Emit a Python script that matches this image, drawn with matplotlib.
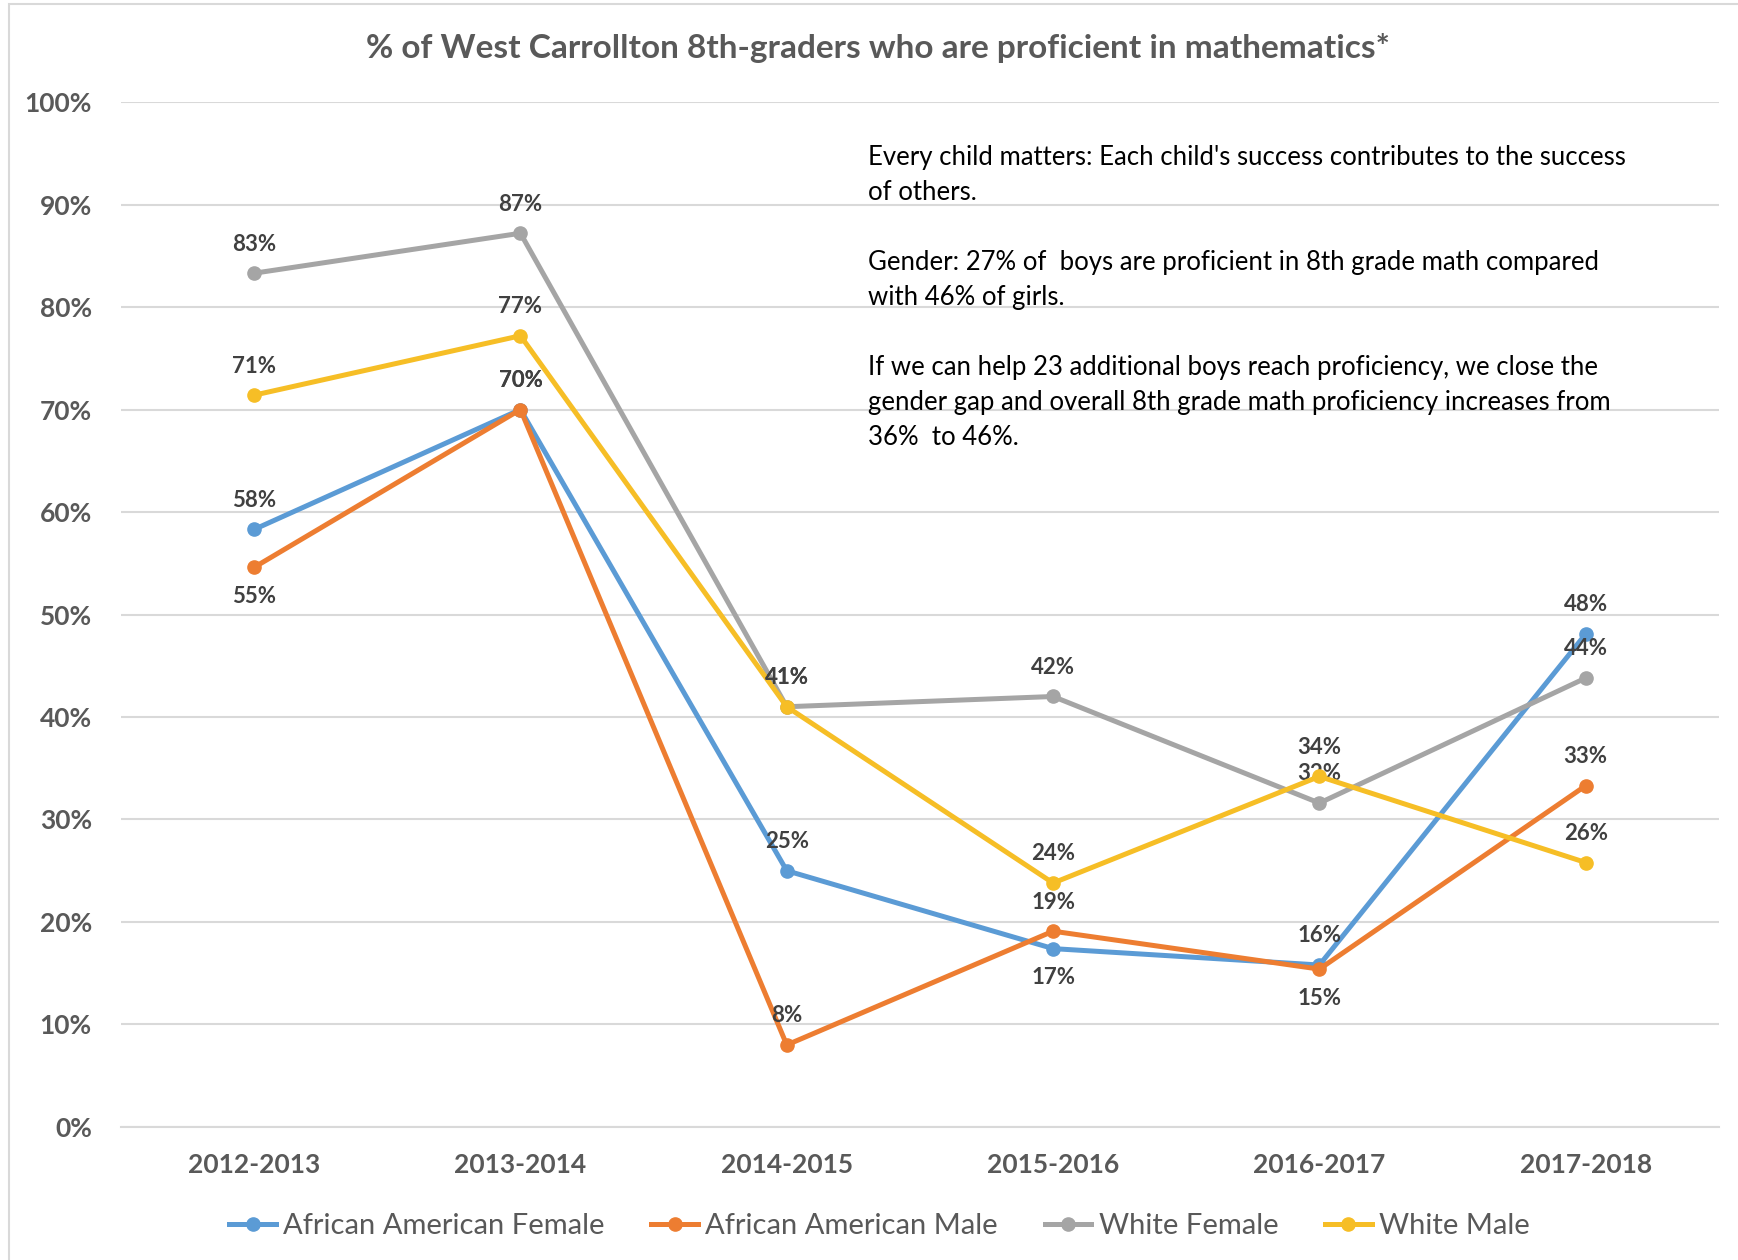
import matplotlib.pyplot as plt
from matplotlib.patches import Rectangle

# data
years = ["2012-2013", "2013-2014", "2014-2015", "2015-2016", "2016-2017", "2017-2018"]
aa_female = [58.3, 70.0, 25.0, 17.4, 15.8, 48.1]
aa_male = [54.6, 70.0, 8.0, 19.1, 15.4, 33.3]
w_female = [83.3, 87.2, 41.0, 42.0, 31.6, 43.8]
w_male = [71.4, 77.2, 41.0, 23.8, 34.2, 25.8]

series = [
    ("African American Female", aa_female, "#5B9BD5", [1, 1, 1, -1, 1, 1]),
    ("African American Male", aa_male, "#ED7D31", [-1, 1, 1, 1, -1, 1]),
    ("White Female", w_female, "#A5A5A5", [1, 1, 1, 1, 1, 1]),
    ("White Male", w_male, "#F6BE26", [1, 1, 1, 1, 1, 1]),
]

note = ("Every child matters: Each child's success contributes to the success\n"
        "of others.\n\n"
        "Gender: 27% of  boys are proficient in 8th grade math compared\n"
        "with 46% of girls.\n\n"
        "If we can help 23 additional boys reach proficiency, we close the\n"
        "gender gap and overall 8th grade math proficiency increases from\n"
        "36%  to 46%.")

plt.rcParams['font.family'] = ['Lato', 'DejaVu Sans']

fig = plt.figure(figsize=(17.38, 12.6), dpi=100)
ax = fig.add_axes([0.0696, 0.1056, 0.9194, 0.8134])

# light outer frame
fig.patches.append(Rectangle((0.005, -0.01), 1.2, 1.007, transform=fig.transFigure,
                             fill=False, edgecolor="#D9D9D9", linewidth=1.5))

xs = list(range(len(years)))
for name, vals, col, pos in series:
    ax.plot(xs, vals, '-o', color=col, linewidth=3.6, markersize=9.5, label=name, zorder=3)
    for x, v, p in zip(xs, vals, pos):
        ax.annotate(f"{v:.0f}%", (x, v), xytext=(0, 21 * p), textcoords='offset points',
                    ha='center', va='center', fontsize=16, fontweight='bold', color='#404040')

ax.set_xlim(-0.5, 5.5)
ax.set_ylim(0, 100)
ax.set_yticks(range(0, 101, 10))
ax.set_yticklabels([f"{t}%" for t in range(0, 101, 10)])
ax.set_xticks(xs)
ax.set_xticklabels(years)
ax.grid(axis='y', color='#D9D9D9', linewidth=1.5)
ax.set_axisbelow(True)
for s in ax.spines.values():
    s.set_visible(False)
ax.spines['bottom'].set_visible(True)
ax.spines['bottom'].set_color('#D9D9D9')
ax.spines['bottom'].set_linewidth(1.5)
ax.tick_params(length=0, labelcolor='#595959', labelsize=19)
ax.tick_params(axis='y', pad=21)
ax.tick_params(axis='x', pad=19)
for lab in ax.get_xticklabels() + ax.get_yticklabels():
    lab.set_fontweight('bold')

ax.text(0.4675, 0.958, note, transform=ax.transAxes, ha='left', va='top',
        fontsize=18.5, color='black', linespacing=1.5)

fig.text(0.505, 0.962, "% of West Carrollton 8th-graders who are proficient in mathematics*",
         ha='center', va='center', fontsize=24, fontweight='bold', color='#595959')

fig.legend(loc='center', bbox_to_anchor=(0.506, 0.027), ncol=4, frameon=False,
           fontsize=21, labelcolor='#595959', handlelength=1.6, handletextpad=0.25,
           columnspacing=1.6)

plt.savefig('out.png', dpi=100)
